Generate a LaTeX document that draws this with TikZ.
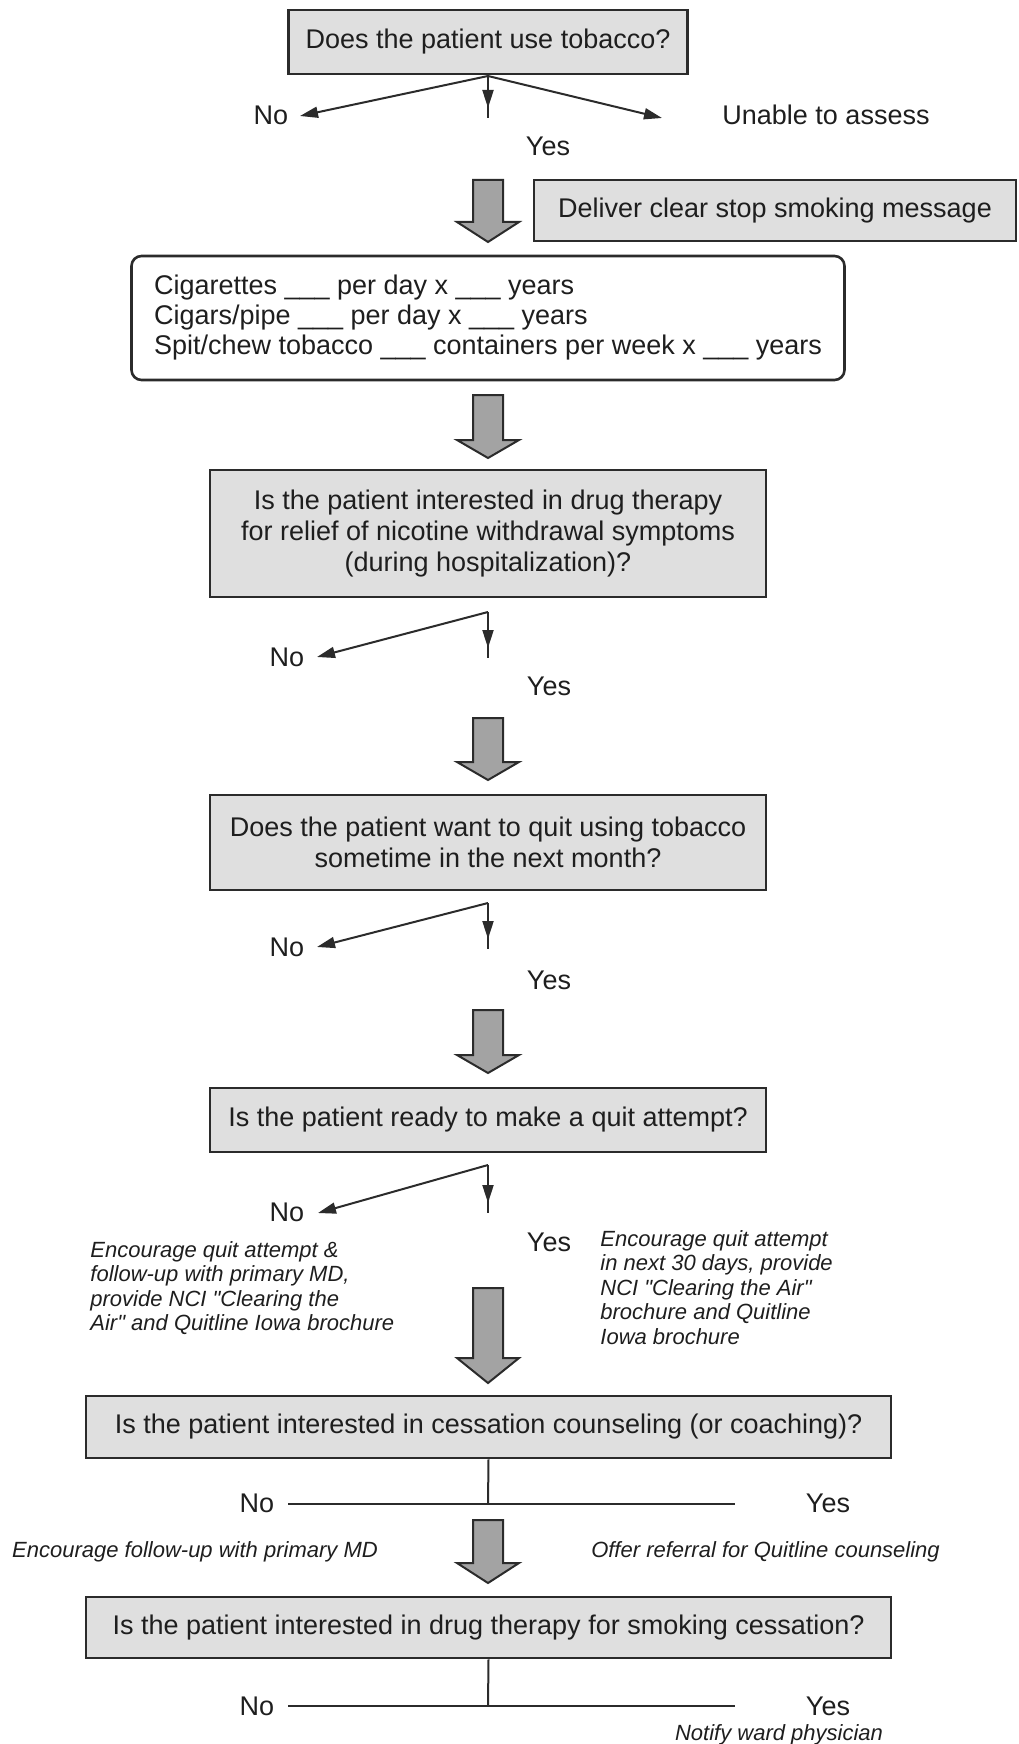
\documentclass[tikz,border=0pt]{standalone}
\usepackage{fontspec}
\setmainfont{Liberation Sans}
\usetikzlibrary{arrows.meta,calc}
\definecolor{boxfill}{HTML}{DFDFDF}
\definecolor{edge}{HTML}{2B2B2B}
\definecolor{fatfill}{HTML}{A3A3A3}
\definecolor{ink}{HTML}{1E1E1E}
\newcommand\fatarrow[3]{\draw[fat] (473,#1) -- (503,#1) -- (503,#2) -- (519,#2) -- (488,#3) -- (457,#2) -- (473,#2) -- cycle;}
\newcommand\qq{\textquotedbl}
\begin{document}
\begin{tikzpicture}[x=0.5pt,y=-0.5pt,
  qbox/.style={draw=edge, line width=1.3pt, fill=boxfill, text=ink, font=\fontsize{13.5}{15.5}\selectfont, align=center, inner sep=0pt},
  lbl/.style={text=ink, font=\fontsize{13.5}{15.5}\selectfont, inner sep=0pt},
  note/.style={text=ink, font=\fontsize{11}{12.25}\selectfont\itshape, align=left, inner sep=0pt},
  conn/.style={draw=edge, line width=1pt},
  tipped/.style={conn, -{Triangle[length=9pt,width=5.5pt]}},
  fat/.style={draw=edge, line width=1pt, fill=fatfill, line join=miter}]
\useasboundingbox (0,0) rectangle (1018,1744);

% --- Box 1
\node[qbox, minimum width=199.5pt, minimum height=32pt] (b1) at (488,42) {Does the patient use tobacco?};
\coordinate (f1) at (488,76);
\coordinate (l1) at (300,116);
\coordinate (d1) at (488,118);
\coordinate (r1) at (662,118);
\draw[tipped] (f1) -- (l1);
\draw[tipped] (f1) -- (r1);
\draw[conn] (f1) -- (d1);
\draw[tipped] (f1) -- ($(d1)+(0,-10)$);
\node[lbl] (no1) at (271,115) {No};
\node[lbl] (ua) at (826,115) {Unable to assess};
\node[lbl] (yes1) at (548,146) {Yes};

% --- Deliver message
\fatarrow{180}{222}{242}
\node[qbox, minimum width=241pt, minimum height=30.5pt] (msg) at (775,210.5) {Deliver clear stop smoking message};

% --- Tobacco amounts
\node[qbox, fill=white, rounded corners=5pt, align=left, minimum width=356.5pt, minimum height=62pt, font=\fontsize{13.5}{15}\selectfont] (cig) at (488,318)
 {Cigarettes \_\_\_ per day x \_\_\_ years\\ Cigars/pipe \_\_\_ per day x \_\_\_ years\\ Spit/chew tobacco \_\_\_ containers per week x \_\_\_ years};

% --- Box 3
\fatarrow{395}{440}{458}
\node[qbox, minimum width=278pt, minimum height=63.5pt] (b3) at (488,533.5)
 {Is the patient interested in drug therapy\\ for relief of nicotine withdrawal symptoms\\ (during hospitalization)?};
\coordinate (f3) at (488,612);
\coordinate (l3) at (317,657);
\coordinate (d3) at (488,658);
\draw[tipped] (f3) -- (l3);
\draw[conn] (f3) -- (d3);
\draw[tipped] (f3) -- ($(d3)+(0,-10)$);
\node[lbl] (no3) at (287,657) {No};
\node[lbl] (yes3) at (549,686) {Yes};

% --- Box 4
\fatarrow{718}{762}{780}
\node[qbox, minimum width=278pt, minimum height=47.5pt] (b4) at (488,842.5)
 {Does the patient want to quit using tobacco\\ sometime in the next month?};
\coordinate (f4) at (488,903);
\coordinate (l4) at (317,947);
\coordinate (d4) at (488,949);
\draw[tipped] (f4) -- (l4);
\draw[conn] (f4) -- (d4);
\draw[tipped] (f4) -- ($(d4)+(0,-10)$);
\node[lbl] (no4) at (287,947) {No};
\node[lbl] (yes4) at (549,980) {Yes};

% --- Box 5
\fatarrow{1010}{1055}{1073}
\node[qbox, minimum width=278pt, minimum height=32pt] (b5) at (488,1120) {Is the patient ready to make a quit attempt?};
\coordinate (f5) at (488,1165);
\coordinate (l5) at (318,1213);
\coordinate (d5) at (488,1213);
\draw[tipped] (f5) -- (l5);
\draw[conn] (f5) -- (d5);
\draw[tipped] (f5) -- ($(d5)+(0,-10)$);
\node[lbl] (no5) at (287,1212) {No};
\node[lbl] (yes5) at (549,1242) {Yes};
\node[note, anchor=north west] (n5l) at (90,1241)
 {Encourage quit attempt \&\\ follow-up with primary MD,\\ provide NCI \qq Clearing the\\ Air\qq{} and Quitline Iowa brochure};
\node[note, anchor=north west] (n5r) at (600,1230)
 {Encourage quit attempt\\ in next 30 days, provide\\ NCI \qq Clearing the Air\qq\\ brochure and Quitline\\ Iowa brochure};

% --- Box 6
\fatarrow{1288}{1358}{1383}
\node[qbox, minimum width=402.5pt, minimum height=31pt] (b6) at (488.5,1427) {Is the patient interested in cessation counseling (or coaching)?};
\coordinate (t6) at (488,1504);
\coordinate (t6l) at (288,1504);
\coordinate (t6r) at (735,1504);
\draw[conn] (b6.south) -- (t6);
\draw[conn] (t6l) -- (t6r);
\node[lbl] (no6) at (257,1503) {No};
\node[lbl] (yes6) at (828,1503) {Yes};
\node[note] (n6l) at (195,1552) {Encourage follow-up with primary MD};
\node[note] (n6r) at (765.5,1552) {Offer referral for Quitline counseling};

% --- Box 7
\fatarrow{1520}{1563}{1583}
\node[qbox, minimum width=402.5pt, minimum height=30.5pt] (b7) at (488.5,1627.5) {Is the patient interested in drug therapy for smoking cessation?};
\coordinate (t7) at (488,1706);
\coordinate (t7l) at (288,1706);
\coordinate (t7r) at (735,1706);
\draw[conn] (b7.south) -- (t7);
\draw[conn] (t7l) -- (t7r);
\node[lbl] (no7) at (257,1706) {No};
\node[lbl] (yes7) at (828,1706) {Yes};
\node[note] (n7r) at (779,1735) {Notify ward physician};
\end{tikzpicture}
\end{document}
